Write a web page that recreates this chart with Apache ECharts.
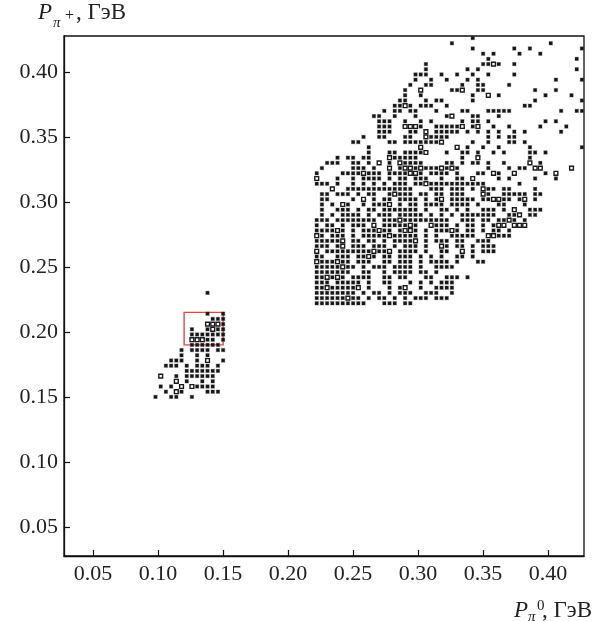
<!DOCTYPE html>
<html>
<head>
<meta charset="utf-8">
<script src="https://cdn.jsdelivr.net/npm/echarts@6/dist/echarts.min.js"></script>
<style>
html,body{margin:0;padding:0;background:#fff;}
#chart{width:600px;height:621px;}
</style>
</head>
<body>
<div id="chart"></div>
<script>
// Bin index k -> momentum (GeV): 0.004*k + 0.002. Rows: "yBin: xBin xBin ..." ; suffix "o" = high-count (hollow) bin
const mainRows = [
"106:85",
"105:81 100",
"104:85 93 96 106",
"103:87 89 94 98",
"102:88 105",
"101:76 87 88 89o 90 93",
"100:76 84 86 105",
"99:74 75 76 79 82 85 88 93",
"98:74 77 80 84 86 101 106",
"97:73 76 77 83 86 87 92",
"96:72 75o 81 82 83o 86 87 97 101",
"95:72 75 85 88o 90 99 104",
"94:71 72 76 78 79 85 97 106",
"93:70 71 72o 73 75 76 77 80 95 96",
"92:68 70 71 73 74 78 83 84 88 89 90 91 92 102 105 106",
"91:66 67 70 74 80 81o 85 86 90",
"90:67 68 69 72 75 77 83 85 86 88 99 101",
"89:67 68 69 72o 73o 74o 75 78 79 80 81 82 83o 85 86o 89 92 98 103",
"88:67 68 69 73 74 76o 78 79 80 81 82 84 86 88 90 93 95 102",
"87:64 67 68 72 73 76o 77 78 79 80 88 90 92 93",
"86:62 63 69 70 72 73 74 75 76 77 78 79o 85 88 92 93 95",
"85:65 75o 82o 84 87 90 96 106",
"84:65 69 70 72 73 74 75 76o 80 83 84 86 89 91 96 97 99",
"83:59 61 62 64 65 69o 70 71 72 73 74 83 86o 96",
"82:57 58 59 62 63 65 67o 69 71o 72 73 74 75 80 81 83 85 86 88 91 96o 98",
"81:56 62 63 64 66 69o 71 72o 73o 74 75o 76 77 78 79o 80 81o 82 88 92 94 95 97o 98o 104o",
"80:55 60 61 62 63 64o 65 66 67 69 70 71 72 73o 74o 75 77 78 79 80 82 86 87 89o 90 93o 99 101o",
"79:55o 59 62 64 65 66 67 69 71 72 74 75 76 79 82 83 85o 90 92 97 101",
"78:55 56 57 59 62 64 66 68 70 71 72 74 75 76o 77 78 79 80 81 82 83 84 85 86 87 94",
"77:58o 61 62 63 64 65 66 67 68 69 70 71 72 73 77 78 79 81 82 83 85 87o 88 89 91 92 97",
"76:56 57 59 60 61 63 65 66 69 70o 71 72 73 75 76 78 79 81 82 83 87o 88 91 92 93 94 95 97 98",
"75:56 57 62 64o 66 68 69 71 72 73 74 76 78 79o 81 82 83 84 85 87 88 89o 90o 91 92 94 95o 97",
"74:56 58 60o 61 64 66 67 68 69o 71 73 74 76 77 78 79 81 82 83 84 86 90 91 95",
"73:56 59 60 61 63 65 66 68 69 70 71 72 73 74 76 79 80 82 84 87 88 89 91 93o 96 97 98",
"72:56 58 60 61 62 63 65 67 68 69 71 72 73 74 75 77 79 81 83 84 85 86 87 88 89 92 93 94o 96 97",
"71:55 56 57 59 60 61 62 63 64 65 66 68 69 70 71o 72 73 74 75 76 77 78 79 80 83 84 85 87 88 90 91 92o 93 95",
"70:55 57 58 60 62 63 64 66o 68 69 70 71 72 73o 74 77o 78 79 80 82 84 85 87 89 90o 91o 93o 94o 95o",
"69:55 56 57 58 59o 60 62 64 65 66 67o 68 69 71 72o 73o 74 76 78 79 80 81o 82 84 85 87 89 90 92",
"68:55o 56 58 59 60 62 64 65 66 67 68 69o 70 71 72 73 74 76 78 81 82 83 84 85 88o 89o 90 91 92",
"67:55 56 57 58 59 60o 62 63 65 66 68 70 71 72 73 74o 76 78 79 80 82 83 86 87 88",
"66:55 56 57 59 60o 62 63 64 66 67 68 70 72 73 74 76 79o 80 82 83 85 87 88 89",
"65:55o 57 58 59 60 61 62 63 64 65 66o 67 68 69o 71 72 73 74 76 79 80 83o 85 87 88 89",
"64:55 56 59 60 61 63 64 65o 66 68 69 71 72 73 75 77 79 82 83 85",
"63:55o 56 57 58 59o 60 61 63 64 65 68 69 71 72 73 75 77 78 79 80 82 86 87",
"62:55 56 57 58 59 60o 61 62 64 66 67 68 70 71 72 73 75 78 79 80 81",
"61:55 56 57 58 59 60 61 64 65 68 70 71 72 73 75 76 78",
"60:55 56 57o 58 59o 60 62 63 64 65 68 69 71 72 76 77 80 81 82 84",
"59:55 56 57 59 60 61 62 63 65 68 69 73 75 77 79 80 81",
"58:55 56 57o 58 59 60 61 62 63o 65 69 71 72o 75 78 79 80 81",
"57:55 56 57 58 59 60 61 62 64 66 67 69 71 72 73 76 77 78 81",
"56:55 56 57 58 59 60 61o 62 63 65 67 68 70 72 74 75 76 78 79 80",
"55:55 56 57 58 59 60 61 62 63 64 68 69 70 72 73"
];
const smallRows = [
"57:34",
"53:34 37",
"52:35 36 37",
"51:34o 35o 36o 37",
"50:31 34 35o 36 37",
"49:31 32 33 34 35 36 37",
"48:31o 32o 33o 34 35 37",
"47:31 32 33 34 35 36",
"46:29 31 32 33 34 36 37",
"45:29 32 34",
"44:27 28 29 32 34o 37",
"43:26 27 28 30 32 33 34 36",
"42:30 31 32 33 34 35 36",
"41:25o 28 30 31 32 33 34 35",
"40:28o 30 33 35",
"39:25 27 29o 31o 32 33 34 35",
"38:26 28o 29 34 35 36",
"37:24 27 28 31"
];
const tickValues = [0.05, 0.10, 0.15, 0.20, 0.25, 0.30, 0.35, 0.40];
const selectBox = [0.12, 0.15, 0.19, 0.215]; // xMin, xMax, yMin, yMax
const axisMin = 0.0276, axisMax = 0.4276;

const binToGeV = k => +(0.004 * k + 0.002).toFixed(3);
const filled = [], hollow = [];
function parseRows(rows) {
  rows.forEach(r => {
    const [jStr, ks] = r.split(':');
    const y = binToGeV(+jStr);
    ks.trim().split(/\s+/).forEach(t => {
      const isO = t.endsWith('o');
      const x = binToGeV(parseInt(t, 10));
      (isO ? hollow : filled).push([x, y]);
    });
  });
}
parseRows(mainRows);
parseRows(smallRows);

const serif = '"Liberation Serif", "DejaVu Serif", serif';
const axisCommon = {
  type: 'value', min: axisMin, max: axisMax,
  axisLine: { show: true, lineStyle: { color: '#111', width: 1.3 } },
  axisTick: { show: true, inside: true, length: 6, customValues: tickValues, lineStyle: { color: '#111', width: 1.2 } },
  axisLabel: { customValues: tickValues, formatter: v => v.toFixed(2), fontFamily: serif, fontSize: 22, color: '#222' },
  splitLine: { show: false }
};

const chart = echarts.init(document.getElementById('chart'), null, { renderer: 'canvas' });
chart.setOption({
  animation: false,
  backgroundColor: '#fff',
  grid: { left: 64, top: 36, width: 520, height: 520, show: true, borderColor: '#111', borderWidth: 1.3, backgroundColor: 'transparent' },
  xAxis: Object.assign({}, axisCommon, { axisLabel: Object.assign({}, axisCommon.axisLabel, { margin: 7 }) }),
  yAxis: Object.assign({}, axisCommon, { axisLabel: Object.assign({}, axisCommon.axisLabel, { margin: 6 }) }),
  series: [
    {
      type: 'scatter', symbol: 'rect', symbolSize: 3.4, silent: true, clip: true,
      itemStyle: { color: '#151515', borderColor: 'rgba(60,60,60,0.35)', borderWidth: 1, opacity: 1 },
      data: filled,
      markArea: {
        silent: true,
        itemStyle: { color: 'rgba(0,0,0,0)', borderColor: '#e8453c', borderWidth: 1.4 },
        data: [[{ coord: [selectBox[0], selectBox[2]] }, { coord: [selectBox[1], selectBox[3]] }]]
      }
    },
    {
      type: 'scatter', symbol: 'rect', symbolSize: 3.8, silent: true, clip: true,
      itemStyle: { color: '#fff', borderColor: '#1a1a1a', borderWidth: 1.4, opacity: 1 },
      data: hollow
    }
  ],
  graphic: [
    { type: 'text', left: 38, top: 1, style: { text: 'P', font: 'italic 23px ' + serif, fill: '#222' } },
    { type: 'text', left: 53, top: 16, style: { text: 'π', font: 'italic 15px ' + serif, fill: '#222' } },
    { type: 'text', left: 65, top: 8, style: { text: '+', font: '16px ' + serif, fill: '#222' } },
    { type: 'text', left: 76, top: 1, style: { text: ', ГэВ', font: '23px ' + serif, fill: '#222' } },
    { type: 'text', left: 514, top: 599, style: { text: 'P', font: 'italic 23px ' + serif, fill: '#222' } },
    { type: 'text', left: 528, top: 610, style: { text: 'π', font: 'italic 15px ' + serif, fill: '#222' } },
    { type: 'text', left: 537, top: 599, style: { text: '0', font: '15px ' + serif, fill: '#222' } },
    { type: 'text', left: 542, top: 599, style: { text: ', ГэВ', font: '23px ' + serif, fill: '#222' } }
  ]
});
</script>
</body>
</html>
